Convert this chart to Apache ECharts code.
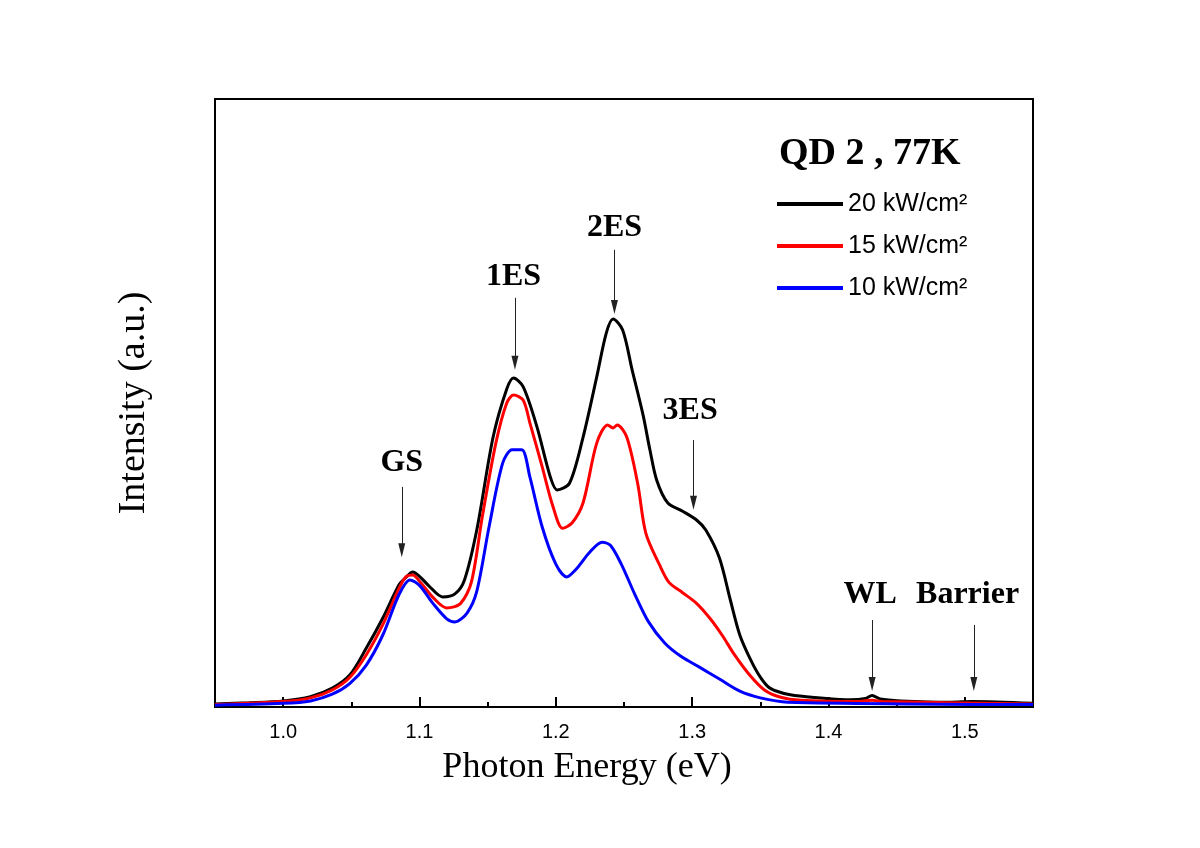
<!DOCTYPE html>
<html>
<head>
<meta charset="utf-8">
<script src="https://cdn.jsdelivr.net/npm/echarts@6/dist/echarts.min.js"></script>
<style>html,body{margin:0;padding:0;background:#fff}#c{width:1200px;height:848px}</style>
</head>
<body>
<div id="c"></div>
<script>
// Photon energy (eV) / intensity (a.u.) pairs
const black20 = [
  [0.95,0.5],[0.975,0.7],[1.0,1.0],[1.02,1.7],[1.036,3.1],[1.049,5.3],[1.061,9.7],[1.073,14.6],
  [1.085,20.1],[1.09,21.3],[1.095,22.2],[1.1,21.5],[1.107,19.9],[1.117,18.1],[1.126,18.6],[1.133,20.9],
  [1.142,29.1],[1.154,44.4],[1.164,52.3],[1.169,54.1],[1.176,52.7],[1.186,46.2],[1.196,37.8],[1.201,35.7],
  [1.21,36.8],[1.22,44.4],[1.23,54.3],[1.237,61.5],[1.242,63.8],[1.249,62.0],[1.256,55.4],[1.264,48.0],
  [1.269,42.3],[1.274,37.3],[1.282,33.6],[1.293,32.2],[1.303,30.8],[1.31,29.1],[1.32,24.5],[1.328,17.6],
  [1.335,11.8],[1.343,7.7],[1.35,4.9],[1.357,3.1],[1.372,2.0],[1.394,1.5],[1.416,1.2],[1.427,1.4],
  [1.432,1.9],[1.438,1.3],[1.453,1.0],[1.49,0.8],[1.505,0.9],[1.55,0.6]
];
const red15 = [
  [0.95,0.4],[1.0,0.9],[1.02,1.5],[1.036,2.8],[1.049,4.9],[1.061,8.6],[1.073,13.5],[1.085,19.5],
  [1.09,21.4],[1.095,21.7],[1.1,20.7],[1.11,18.0],[1.12,16.3],[1.13,17.0],[1.138,20.5],[1.146,31.2],
  [1.156,43.4],[1.164,50.0],[1.169,51.3],[1.176,50.5],[1.181,46.7],[1.19,39.5],[1.198,32.9],[1.205,29.4],
  [1.212,30.3],[1.22,33.6],[1.23,43.4],[1.238,46.4],[1.242,45.9],[1.245,46.4],[1.252,44.4],[1.26,36.8],
  [1.266,28.6],[1.276,23.4],[1.283,20.5],[1.293,18.8],[1.303,17.1],[1.313,14.6],[1.322,11.8],[1.331,8.6],
  [1.342,5.3],[1.353,2.8],[1.365,1.6],[1.38,1.1],[1.42,0.9],[1.432,1.1],[1.44,0.9],[1.55,0.5]
];
const blue10 = [
  [0.95,0.3],[1.0,0.6],[1.02,1.0],[1.036,2.1],[1.049,3.9],[1.061,6.9],[1.073,11.8],[1.085,18.5],
  [1.093,20.9],[1.1,20.0],[1.11,17.0],[1.12,14.5],[1.126,14.0],[1.135,15.5],[1.142,19.0],[1.151,29.6],
  [1.161,40.1],[1.168,42.3],[1.175,42.3],[1.181,37.8],[1.19,29.6],[1.2,23.5],[1.208,21.4],[1.215,22.7],
  [1.225,25.5],[1.234,27.1],[1.24,26.6],[1.248,23.5],[1.258,18.5],[1.268,14.0],[1.28,10.5],[1.292,8.3],
  [1.305,6.6],[1.32,4.6],[1.335,2.6],[1.35,1.5],[1.37,0.8],[1.55,0.4]
];
const seriesNames = ['20 kW/cm²', '15 kW/cm²', '10 kW/cm²'];
const seriesColors = ['#000000', '#ff0000', '#0000ff'];
const majorTicks = [1.0, 1.1, 1.2, 1.3, 1.4, 1.5];
const minorTicks = [1.05, 1.15, 1.25, 1.35, 1.45];
// annotation labels: [energy, intensity, text]
const peakLabels = [
  [1.087, 40.1, 'GS'], [1.169, 70.7, '1ES'], [1.243, 78.8, '2ES'], [1.2985, 48.8, '3ES'],
  [1.4305, 18.4, 'WL'], [1.502, 18.4, 'Barrier']
];
// arrows: [energy, start intensity, end intensity]
const peakArrows = [
  [1.087, 36.2, 25.8], [1.170, 67.3, 56.6], [1.243, 75.2, 65.8], [1.301, 43.9, 33.6],
  [1.432, 14.3, 3.8], [1.5066, 13.5, 3.8]
];

const chart = echarts.init(document.getElementById('c'), null, {renderer: 'canvas'});
const serif = '"Liberation Serif", "Times New Roman", serif';
const sans = '"Liberation Sans", Arial, sans-serif';
const lines = [black20, red15, blue10].map((d, i) => ({
  name: seriesNames[i], type: 'line', data: d, showSymbol: false, symbol: 'none',
  smooth: 0.3, lineStyle: {color: seriesColors[i], width: 3}, itemStyle: {color: seriesColors[i]},
  xAxisIndex: 0, yAxisIndex: 0, z: 3 + i
}));
chart.setOption({
  animation: false,
  backgroundColor: '#fff',
  title: {
    text: 'QD 2 , 77K', left: 774, top: 130,
    textStyle: {fontFamily: serif, fontWeight: 'bold', fontSize: 38, color: '#000'}
  },
  legend: {
    data: seriesNames, orient: 'vertical', left: 772, top: 185, itemWidth: 66, itemHeight: 4,
    itemGap: 14, icon: 'rect', selectedMode: false,
    textStyle: {fontFamily: sans, fontSize: 25, color: '#000', lineHeight: 28}
  },
  grid: {left: 215, right: 167, top: 99, bottom: 141, show: true, borderColor: '#000', borderWidth: 2, containLabel: false},
  xAxis: [{
    type: 'value', min: 0.95, max: 1.55,
    name: 'Photon Energy (eV)', nameLocation: 'middle', nameGap: 43,
    nameTextStyle: {fontFamily: serif, fontSize: 36, color: '#000', padding: [0, 74, 0, 0]},
    axisLine: {show: true, lineStyle: {color: '#000', width: 2}},
    axisTick: {show: true, inside: true, length: 10, customValues: majorTicks, lineStyle: {color: '#000', width: 2}},
    axisLabel: {show: true, customValues: majorTicks, margin: 15, formatter: v => v.toFixed(1),
      fontFamily: sans, fontSize: 20, color: '#000'},
    splitLine: {show: false}
  }, {
    type: 'value', min: 0.95, max: 1.55, position: 'bottom', gridIndex: 0,
    axisLine: {show: false},
    axisTick: {show: true, inside: true, length: 5, customValues: minorTicks, lineStyle: {color: '#000', width: 2}},
    axisLabel: {show: false},
    splitLine: {show: false}
  }],
  yAxis: {
    type: 'value', min: 0, max: 100,
    name: 'Intensity (a.u.)', nameLocation: 'middle', nameGap: 62,
    nameTextStyle: {fontFamily: serif, fontSize: 38, color: '#000'},
    axisLine: {show: true, lineStyle: {color: '#000', width: 2}},
    axisTick: {show: false}, axisLabel: {show: false}, splitLine: {show: false}
  },
  series: lines.concat([{
    name: 'arrows', type: 'line', data: [], xAxisIndex: 0, yAxisIndex: 0, z: 10,
    markLine: {
      silent: true, animation: false,
      symbol: ['none', 'triangle'], symbolSize: [7, 14],
      lineStyle: {color: '#222', width: 1, type: 'solid'},
      label: {show: false},
      data: peakArrows.map(a => [{coord: [a[0], a[1]]}, {coord: [a[0], a[2]]}])
    }
  }, {
    name: 'labels', type: 'scatter', data: peakLabels, symbolSize: 0, xAxisIndex: 0, yAxisIndex: 0, z: 10,
    silent: true, itemStyle: {opacity: 1},
    label: {show: true, position: 'inside', formatter: p => p.value[2],
      fontFamily: serif, fontWeight: 'bold', fontSize: 32, color: '#000'}
  }])
});
</script>
</body>
</html>
